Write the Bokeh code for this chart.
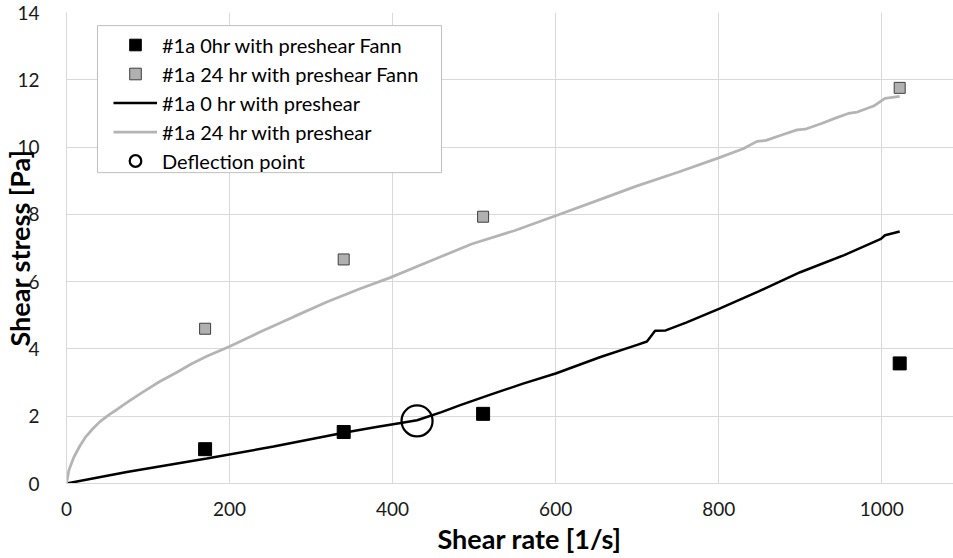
from bokeh.plotting import figure
from bokeh.models import Range1d, FixedTicker, Legend, LegendItem, BoxAnnotation, Title
from bokeh.embed import file_html
from bokeh.resources import INLINE

# Fann viscometer readings (shear rate in 1/s, shear stress in Pa)
fann_rate = [170, 340, 511, 1022]
fann_0hr = [1.02, 1.53, 2.07, 3.57]
fann_24hr = [4.60, 6.66, 7.93, 11.76]

# Rheometer flow curve, sample #1a, 0 hr, with preshear
rheo_0hr_rate = [0, 74, 172, 254, 340, 380, 410, 430, 460, 483, 520, 560, 600,
                 655, 700, 712, 722, 735, 760, 801, 849, 900, 954, 999, 1004, 1022]
rheo_0hr_stress = [0, 0.34, 0.74, 1.1, 1.51, 1.68, 1.8, 1.88, 2.12, 2.33, 2.64,
                   2.97, 3.27, 3.76, 4.12, 4.22, 4.54, 4.55, 4.78, 5.2, 5.71,
                   6.28, 6.79, 7.27, 7.38, 7.49]

# Rheometer flow curve, sample #1a, 24 hr, with preshear
rheo_24hr_rate = [0, 3, 9, 16, 23, 32, 41, 52, 62, 78, 95, 115, 135, 153, 172,
                  200, 238, 279, 320, 360, 397, 450, 497, 550, 600, 650, 699,
                  750, 800, 830, 847, 858, 880, 896, 906, 927, 943, 959, 970,
                  990, 1004, 1022]
rheo_24hr_stress = [0, 0.4, 0.78, 1.1, 1.37, 1.62, 1.84, 2.04, 2.2, 2.47, 2.74,
                    3.04, 3.3, 3.55, 3.78, 4.07, 4.51, 4.96, 5.40, 5.79, 6.12,
                    6.65, 7.12, 7.52, 7.96, 8.40, 8.84, 9.25, 9.68, 9.95, 10.17,
                    10.2, 10.38, 10.51, 10.53, 10.71, 10.86, 11.0, 11.04, 11.22,
                    11.45, 11.51]

# Deflection point on the 0 hr curve
deflection_rate = [430]
deflection_stress = [1.86]

x_ticks = [0, 200, 400, 600, 800, 1000]
y_ticks = [0, 2, 4, 6, 8, 10, 12, 14]

FONT = "Lato"
GRID = "#d9d9d9"

p = figure(width=953, height=558,
           x_range=Range1d(0, 1088), y_range=Range1d(0, 14),
           min_border_left=66, min_border_right=0,
           min_border_top=12, min_border_bottom=75,
           toolbar_location=None, output_backend="svg")
p.outline_line_color = None
p.background_fill_color = "white"
p.border_fill_color = "white"

for ax in (p.xaxis[0], p.yaxis[0]):
    ax.axis_line_color = GRID
    ax.axis_line_width = 1
    ax.major_tick_line_color = None
    ax.minor_tick_line_color = None
    ax.major_label_text_font = FONT
    ax.major_label_text_font_size = "19px"
    ax.major_label_text_color = "#1a1a1a"

p.xaxis.ticker = FixedTicker(ticks=x_ticks)
p.yaxis.ticker = FixedTicker(ticks=y_ticks)
p.xaxis.major_label_standoff = 12
p.yaxis.major_label_standoff = 21

# Vertical axis title sits close to (partly over) the tick labels
p.yaxis.axis_label = "Shear stress [Pa]"
p.yaxis.axis_label_text_font = FONT
p.yaxis.axis_label_text_font_size = "27px"
p.yaxis.axis_label_text_font_style = "bold"
p.yaxis.axis_label_text_color = "black"
p.yaxis.axis_label_standoff = -22

# Horizontal axis title, placed as a title panel below the axis
x_title = Title(text="Shear rate [1/s]", align="left", offset=371,
                text_font=FONT, text_font_size="27px", text_font_style="bold",
                text_color="black", standoff=3)
p.add_layout(x_title, "below")

p.xgrid.ticker = FixedTicker(ticks=x_ticks)
p.ygrid.ticker = FixedTicker(ticks=y_ticks)
p.xgrid.grid_line_color = GRID
p.ygrid.grid_line_color = GRID
p.xgrid.grid_line_width = 1
p.ygrid.grid_line_width = 1

# Flow curves
r_line0 = p.line(rheo_0hr_rate, rheo_0hr_stress, line_color="black", line_width=2.5)
r_line24 = p.line(rheo_24hr_rate, rheo_24hr_stress, line_color="#b4b4b4", line_width=2.75)

# Fann points
r_fann0 = p.scatter(fann_rate, fann_0hr, marker="square", size=13,
                    fill_color="black", line_color="black", line_width=1)
r_fann24 = p.scatter(fann_rate, fann_24hr, marker="square", size=11,
                     fill_color="#b0b0b0", line_color="#3f3f3f", line_width=1)

# Deflection point marker
r_defl = p.scatter(deflection_rate, deflection_stress, marker="circle", size=31,
                   fill_color=None, line_color="black", line_width=2.25)

# Legend frame (drawn separately so the entries can sit inset)
legend_box = BoxAnnotation(left=38.0, right=460, bottom=9.24, top=13.61,
                           fill_color="white", fill_alpha=1.0,
                           line_color="#bfbfbf", line_alpha=1.0, line_width=1)
p.add_layout(legend_box)

legend = Legend(items=[
    LegendItem(label="#1a 0hr with preshear Fann", renderers=[r_fann0]),
    LegendItem(label="#1a 24 hr with preshear Fann", renderers=[r_fann24]),
    LegendItem(label="#1a 0 hr with preshear", renderers=[r_line0]),
    LegendItem(label="#1a 24 hr with preshear", renderers=[r_line24]),
    LegendItem(label="Deflection point", renderers=[r_defl]),
], location=(47, 308))
legend.border_line_color = None
legend.background_fill_alpha = 0
legend.padding = 0
legend.margin = 0
legend.spacing = 0
legend.glyph_width = 44
legend.glyph_height = 29
legend.label_height = 29
legend.label_standoff = 5
legend.label_text_font = FONT
legend.label_text_font_size = "20px"
legend.label_text_color = "black"
p.add_layout(legend)

open("out.html", "w").write(file_html(p, INLINE))
